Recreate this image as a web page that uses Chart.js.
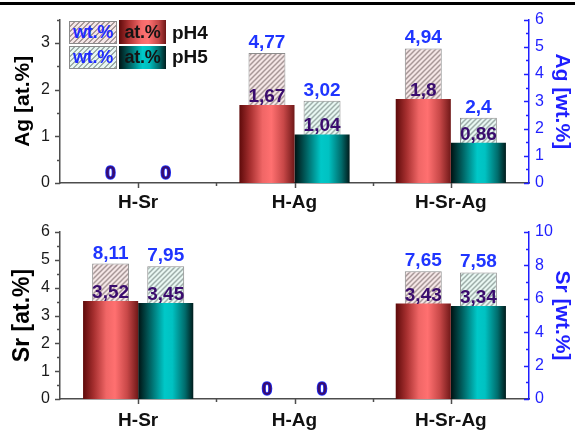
<!DOCTYPE html>
<html>
<head>
<meta charset="utf-8">
<script src="https://cdn.jsdelivr.net/npm/chart.js@4.4.1/dist/chart.umd.min.js"></script>
<style>
  html, body { margin: 0; padding: 0; background: #fff; }
  #wrap { position: relative; width: 575px; height: 430px; overflow: hidden;
          font-family: "Liberation Sans", Arial, sans-serif; }
  .rule { position: absolute; left: 0; top: 2px; width: 575px; height: 3px; background: #000; }
  .panel { position: absolute; left: 0; width: 575px; }
  #agPanel { top: 0; height: 212px; }
  #srPanel { top: 212px; height: 218px; }
  .key { position: absolute; box-sizing: border-box; text-align: center; font-weight: bold; font-size: 18px; letter-spacing: -0.3px; }
  .key.wt { border: 1px solid #8a8a8a; color: #1f2bff; }
  .key.at { color: #141414; }
  .key.wt4 { background: repeating-linear-gradient(135deg, #f4e6e6 0 2.2px, #a89898 2.2px 3.6px); }
  .key.wt5 { background: repeating-linear-gradient(135deg, #e8f7f2 0 2.2px, #9eaeaa 2.2px 3.6px); }
  .key.at4 { background: linear-gradient(90deg, #5e0a0a 0%, #b03434 22%, #f56a6a 48%, #ff7272 62%, #c24646 85%, #6e1616 100%); }
  .key.at5 { background: linear-gradient(90deg, #001414 0%, #006a6a 25%, #00caca 50%, #00bcbc 65%, #006060 88%, #001c1c 100%); }
  .ph { position: absolute; font-weight: bold; font-size: 19px; color: #111; }
</style>
</head>
<body>
<div id="wrap">
  <div class="panel" id="agPanel"><canvas id="agChart"></canvas></div>
  <div class="panel" id="srPanel"><canvas id="srChart"></canvas></div>
  <div class="rule"></div>

  <div class="key wt wt4" style="left:69px;top:21px;width:48px;height:23px;line-height:21px;">wt.%</div>
  <div class="key at at4" style="left:119px;top:20px;width:47px;height:24px;line-height:24px;">at.%</div>
  <div class="ph" style="left:172px;top:22px;">pH4</div>
  <div class="key wt wt5" style="left:69px;top:46px;width:48px;height:23px;line-height:21px;">wt.%</div>
  <div class="key at at5" style="left:119px;top:46px;width:47px;height:23px;line-height:23px;">at.%</div>
  <div class="ph" style="left:172px;top:46px;">pH5</div>
</div>

<script>
// Sample groups along the category axis
const CATEGORIES = ['H-Sr', 'H-Ag', 'H-Sr-Ag'];

// Silver content (atomic % and weight %)
const AG_AT_PH4 = [0, 1.67, 1.8];
const AG_AT_PH5 = [0, 1.04, 0.86];
const AG_WT_PH4 = [0, 4.77, 4.94];
const AG_WT_PH5 = [0, 3.02, 2.4];

// Strontium content (atomic % and weight %)
const SR_AT_PH4 = [3.52, 0, 3.43];
const SR_AT_PH5 = [3.45, 0, 3.34];
const SR_WT_PH4 = [8.11, 0, 7.65];
const SR_WT_PH5 = [7.95, 0, 7.58];

// Axis ranges: [min, max, major step]
const AG_AT_AXIS = [0, 3.5, 1];
const AG_WT_AXIS = [0, 6, 1];
const SR_AT_AXIS = [0, 6, 1];
const SR_WT_AXIS = [0, 10, 2];

const FONT = '"Liberation Sans", Arial, sans-serif';
const AXIS_GREY = '#4d4d4d';
const AXIS_BLUE = '#1f1fff';
const WT_LABEL = '#1f35ff';
const AT_LABEL = '#3a0c6e';

const RED_STOPS = [[0, '#5e0a0a'], [0.2, '#a83030'], [0.42, '#f06666'], [0.58, '#ff7070'],
                   [0.8, '#c84848'], [1, '#701818']];
const TEAL_STOPS = [[0, '#001212'], [0.22, '#006464'], [0.48, '#00c8c8'], [0.62, '#00c2c2'],
                    [0.85, '#006c6c'], [1, '#001c1c']];

const CAT_PCT = 0.705;
const AT_BAR_PCT = 1.0;
const WT_BAR_PCT = 0.67;

function hatch(bg, line) {
  const s = 5;
  const c = document.createElement('canvas');
  c.width = s; c.height = s;
  const g = c.getContext('2d');
  g.fillStyle = bg;
  g.fillRect(0, 0, s, s);
  g.strokeStyle = line;
  g.lineWidth = 1.5;
  g.beginPath();
  g.moveTo(-1, s + 1); g.lineTo(s + 1, -1);
  g.moveTo(-1, 1); g.lineTo(1, -1);
  g.moveTo(s - 1, s + 1); g.lineTo(s + 1, s - 1);
  g.stroke();
  return g.createPattern(c, 'repeat');
}

// Horizontal shading across each bar, spanning the bar's own width
function shaded(stops, slot) {
  return (ctx) => {
    const chart = ctx.chart;
    const xs = chart.scales.x;
    if (!chart.chartArea || !xs || ctx.dataIndex === undefined) return stops[3][1];
    const ds = chart.data.datasets[ctx.datasetIndex];
    const slotW = xs.width / CATEGORIES.length * ds.categoryPercentage / 2;
    const centre = xs.getPixelForValue(ctx.dataIndex) + (slot - 0.5) * slotW;
    const half = slotW * ds.barPercentage / 2;
    const g = chart.ctx.createLinearGradient(centre - half, 0, centre + half, 0);
    stops.forEach(([o, c]) => g.addColorStop(o, c));
    return g;
  };
}

function fmt(v) { return String(v).replace('.', ','); }

const valueLabels = {
  id: 'valueLabels',
  afterDatasetsDraw(chart) {
    const ctx = chart.ctx;
    ctx.save();
    ctx.font = 'bold 19px ' + FONT;
    ctx.textAlign = 'center';
    ctx.textBaseline = 'alphabetic';
    const sets = chart.data.datasets.map((d, i) => i);
    const drawKind = (kind) => {
      sets.forEach((i) => {
        const ds = chart.data.datasets[i];
        if (ds.kind !== kind) return;
        chart.getDatasetMeta(i).data.forEach((el, j) => {
          const v = ds.data[j];
          const gap = v === 0 ? 4 : (kind === 'wt' ? 5 : 3);
          const y = el.y - gap;
          if (kind === 'at' && v === 0) {
            ctx.strokeStyle = WT_LABEL;
            ctx.lineWidth = 1.5;
            ctx.strokeText(fmt(v), el.x, y);
          }
          ctx.fillStyle = kind === 'wt' ? WT_LABEL : AT_LABEL;
          ctx.fillText(fmt(v), el.x, y);
        });
      });
    };
    drawKind('wt');
    drawKind('at');
    ctx.restore();
  }
};

// Major and minor tick marks on all three axes
const tickMarks = {
  id: 'tickMarks',
  afterDraw(chart) {
    const {ctx, chartArea, scales} = chart;
    ctx.save();
    ctx.lineWidth = 1.5;
    ['y', 'y2'].forEach((id) => {
      const s = scales[id];
      const half = s.options.ticks.stepSize / 2;
      const edge = id === 'y' ? chartArea.left : chartArea.right;
      ctx.strokeStyle = s.options.border.color;
      for (let k = 0; s.min + k * half <= s.max + 1e-9; k++) {
        const py = Math.round(s.getPixelForValue(s.min + k * half)) + 0.5;
        const len = k % 2 === 0 ? 5 : 3;
        ctx.beginPath();
        ctx.moveTo(edge, py);
        ctx.lineTo(edge - len, py);
        ctx.stroke();
      }
    });
    const xs = scales.x;
    ctx.strokeStyle = xs.options.border.color;
    for (let i = 0; i < CATEGORIES.length; i++) {
      const px = Math.round(xs.getPixelForValue(i)) + 0.5;
      ctx.beginPath(); ctx.moveTo(px, chartArea.bottom); ctx.lineTo(px, chartArea.bottom + 5); ctx.stroke();
      if (i < CATEGORIES.length - 1) {
        const mx = Math.round(xs.getPixelForValue(i + 0.5)) + 0.5;
        ctx.beginPath(); ctx.moveTo(mx, chartArea.bottom); ctx.lineTo(mx, chartArea.bottom + 3); ctx.stroke();
      }
    }
    ctx.restore();
  }
};

const PINK_HATCH = hatch('#f4e6e6', '#a89898');
const CYAN_HATCH = hatch('#e8f7f2', '#9eaeaa');

function atSet(data, slot, stops) {
  return { kind: 'at', data, yAxisID: 'y', stack: slot === 0 ? 'pH4' : 'pH5',
           categoryPercentage: CAT_PCT, barPercentage: AT_BAR_PCT,
           backgroundColor: shaded(stops, slot), borderWidth: 0 };
}
function wtSet(data, slot, pattern) {
  return { kind: 'wt', data, yAxisID: 'y2', stack: slot === 0 ? 'pH4' : 'pH5',
           categoryPercentage: CAT_PCT, barPercentage: WT_BAR_PCT,
           backgroundColor: pattern, borderColor: '#8c8c8c', borderWidth: 1 };
}

function panel(canvasId, p) {
  return new Chart(document.getElementById(canvasId), {
    type: 'bar',
    data: {
      labels: CATEGORIES,
      datasets: [
        atSet(p.atPH4, 0, RED_STOPS),
        atSet(p.atPH5, 1, TEAL_STOPS),
        wtSet(p.wtPH4, 0, PINK_HATCH),
        wtSet(p.wtPH5, 1, CYAN_HATCH)
      ]
    },
    options: {
      responsive: true,
      maintainAspectRatio: false,
      devicePixelRatio: 1,
      animation: false,
      events: [],
      layout: { padding: { top: p.padTop, left: 0, right: 0, bottom: 0 } },
      plugins: { legend: { display: false }, tooltip: { enabled: false } },
      scales: {
        x: {
          grid: { display: false, drawTicks: false },
          border: { color: AXIS_GREY, width: 1.5 },
          ticks: { color: '#111', font: { family: FONT, size: 19, weight: 'bold' },
                   padding: p.xPad, maxRotation: 0, autoSkip: false },
          afterFit: (s) => { s.height = p.xHeight; }
        },
        y: {
          position: 'left', stacked: false,
          min: p.atAxis[0], max: p.atAxis[1],
          grid: { display: false, drawTicks: false },
          border: { color: AXIS_GREY, width: 1.5 },
          ticks: { stepSize: p.atAxis[2], includeBounds: false, color: '#1a1a1a',
                   font: { family: FONT, size: 16 }, padding: 10 },
          title: { display: true, text: p.atTitle, color: '#000',
                   font: { family: FONT, size: p.titleSize, weight: 'bold', lineHeight: 1.2 },
                   padding: { top: p.titleL, bottom: 0 } },
          afterFit: (s) => { s.width = 60; }
        },
        y2: {
          position: 'right', stacked: false,
          min: p.wtAxis[0], max: p.wtAxis[1],
          grid: { display: false, drawTicks: false },
          border: { color: AXIS_BLUE, width: 1.5 },
          ticks: { stepSize: p.wtAxis[2], includeBounds: false, color: AXIS_BLUE,
                   font: { family: FONT, size: 16 }, padding: 6 },
          title: { display: true, text: p.wtTitle, color: AXIS_BLUE,
                   font: { family: FONT, size: 21, weight: 'bold', lineHeight: 1.2 },
                   padding: { top: 1, bottom: 0 } },
          afterFit: (s) => { s.width = 46; }
        }
      }
    },
    plugins: [tickMarks, valueLabels]
  });
}

panel('agChart', {
  atPH4: AG_AT_PH4, atPH5: AG_AT_PH5, wtPH4: AG_WT_PH4, wtPH5: AG_WT_PH5,
  atAxis: AG_AT_AXIS, wtAxis: AG_WT_AXIS,
  atTitle: 'Ag [at.%]', wtTitle: 'Ag [wt.%]',
  padTop: 15, xHeight: 29, xPad: 8, titleSize: 21, titleL: 11
});

panel('srChart', {
  atPH4: SR_AT_PH4, atPH5: SR_AT_PH5, wtPH4: SR_WT_PH4, wtPH5: SR_WT_PH5,
  atAxis: SR_AT_AXIS, wtAxis: SR_WT_AXIS,
  atTitle: 'Sr [at.%]', wtTitle: 'Sr [wt.%]',
  padTop: 20, xHeight: 31, xPad: 10, titleSize: 23, titleL: 9
});
</script>
</body>
</html>
